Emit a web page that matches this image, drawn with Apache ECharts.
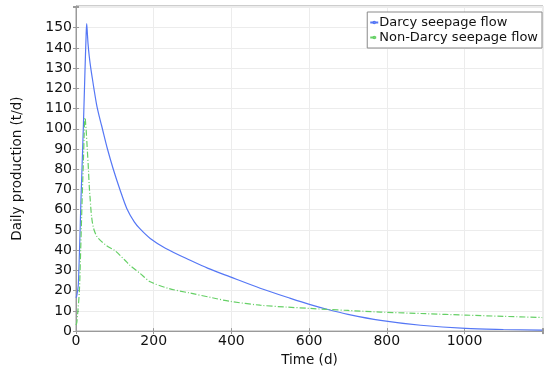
<!DOCTYPE html>
<html>
<head>
<meta charset="utf-8">
<script src="https://cdn.jsdelivr.net/npm/echarts@6/dist/echarts.min.js"></script>
<style>
  html, body { margin: 0; padding: 0; background: #fff; }
  #main { width: 550px; height: 372px; }
</style>
</head>
<body>
<div id="main"></div>
<script>
// values
var seriesNames = ['Darcy seepage flow', 'Non-Darcy seepage flow'];

var darcyTime = [0, 2, 6, 13, 18.8, 23, 26, 27.5, 29, 31, 34, 38, 42, 46, 53, 60, 66, 81, 96, 113, 131, 150, 165, 191, 230, 294, 340, 397, 474, 552, 603, 646, 700, 784, 887, 1003, 1100, 1200];
var darcyValue = [16.5, 17.5, 23, 66, 100, 128, 146, 152, 148, 142, 136, 130, 125, 120, 112, 106, 101.5, 90, 80, 70, 60.5, 54, 50.5, 45.8, 41, 35, 31, 26.8, 21.2, 16.2, 13.1, 10.8, 8.3, 5.3, 2.9, 1.3, 0.8, 0.5];

var nonDarcyTime = [0, 2, 4, 8.6, 12, 16, 19, 21, 22.5, 23.5, 25, 26, 29, 32, 34, 36, 40, 45, 53, 62, 79, 100, 126, 139, 165, 191, 240, 294, 350, 397, 474, 540, 603, 646, 700, 784, 900, 1003, 1100, 1200];
var nonDarcyValue = [3, 4.2, 8, 19.6, 40, 66.5, 84, 97, 105, 105.5, 102, 100, 90, 80, 72, 66.5, 56.8, 51, 47, 45, 42.2, 39.8, 35, 32.5, 28.5, 24.4, 21, 18.8, 16.5, 14.7, 12.8, 11.9, 11.2, 10.7, 10.2, 9.4, 8.6, 7.9, 7.3, 6.7];

var xTicks = [0, 200, 400, 600, 800, 1000];
var yMaxLabel = 150;

function pairs(xs, ys) {
  var out = [];
  for (var i = 0; i < xs.length; i++) out.push([xs[i], ys[i]]);
  return out;
}

var myChart = echarts.init(document.getElementById('main'));
var fontFam = 'DejaVu Sans';
var option = {
  animation: false,
  textStyle: { fontFamily: fontFam },
  grid: {
    left: 76, right: 7, top: 6, bottom: 35,
    show: true, borderColor: '#9a9a9a', borderWidth: 1
  },
  legend: {
    data: seriesNames,
    orient: 'vertical',
    right: 8, top: 12,
    itemWidth: 8, itemHeight: 2, itemGap: 2,
    backgroundColor: '#fff',
    borderColor: '#8a8a8a', borderWidth: 1, borderRadius: 0,
    padding: [4, 4, 4, 2],
    textStyle: { fontFamily: fontFam, fontSize: 13, color: '#111', padding: [0, 0, 0, -4] }
  },
  xAxis: [{
    type: 'value', min: 0, max: 1202, interval: 200,
    name: 'Time (d)', nameLocation: 'middle', nameGap: 19,
    nameTextStyle: { fontFamily: fontFam, fontSize: 13.5, color: '#111' },
    axisLine: { show: true, onZero: false, lineStyle: { color: '#9a9a9a' } },
    axisTick: { show: true, inside: true, length: 3, lineStyle: { color: '#9a9a9a' } },
    axisLabel: {
      fontFamily: fontFam, fontSize: 14, color: '#111', margin: 3,
      formatter: function (v) { return xTicks.indexOf(v) >= 0 ? String(v) : ''; }
    },
    splitLine: { show: true, lineStyle: { color: '#ececec' } }
  }, {
    type: 'value', position: 'top', min: 0, max: 1202, interval: 200,
    axisLine: { show: false },
    axisTick: { show: true, inside: true, length: 3, lineStyle: { color: '#9a9a9a' } },
    axisLabel: { show: false }, splitLine: { show: false }
  }],
  yAxis: [{
    type: 'value', min: 0, max: 160.7, interval: 10,
    name: 'Daily production (t/d)', nameLocation: 'middle', nameGap: 52,
    nameTextStyle: { fontFamily: fontFam, fontSize: 13.5, color: '#111' },
    axisLine: { show: true, lineStyle: { color: '#9a9a9a' } },
    axisTick: { show: true, inside: true, length: 3, lineStyle: { color: '#9a9a9a' } },
    axisLabel: {
      fontFamily: fontFam, fontSize: 14, color: '#111', margin: 4,
      formatter: function (v) { return v <= yMaxLabel ? String(v) : ''; }
    },
    splitLine: { show: true, lineStyle: { color: '#ececec' } }
  }, {
    type: 'value', position: 'right', min: 0, max: 160.7, interval: 10,
    axisLine: { show: false },
    axisTick: { show: true, inside: true, length: 3, lineStyle: { color: '#9a9a9a' } },
    axisLabel: { show: false }, splitLine: { show: false }
  }],
  series: [{
    name: seriesNames[0], type: 'line', showSymbol: false, smooth: 0.3,
    data: pairs(darcyTime, darcyValue),
    itemStyle: { color: '#5577f5' },
    lineStyle: { color: '#5577f5', width: 1.2 }
  }, {
    name: seriesNames[1], type: 'line', showSymbol: false, smooth: 0.3,
    data: pairs(nonDarcyTime, nonDarcyValue),
    itemStyle: { color: '#66d066' },
    lineStyle: { color: '#66d066', width: 1.2, type: [6, 2, 1, 2] }
  }]
};
myChart.setOption(option);
</script>
</body>
</html>
